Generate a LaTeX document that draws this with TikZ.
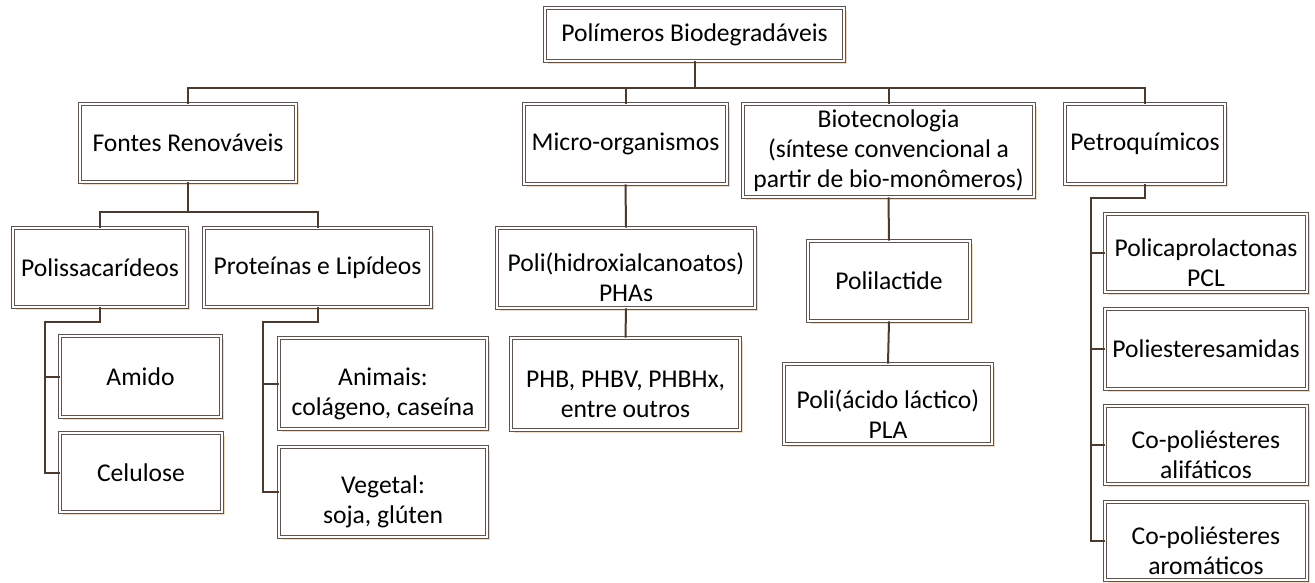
\documentclass[tikz,border=0pt]{standalone}
\usepackage{fontspec}
\setmainfont{Carlito}
\usetikzlibrary{shadows}
\definecolor{boxline}{HTML}{5E534D}
\definecolor{linkline}{HTML}{4A3A30}
\definecolor{shadowtan}{HTML}{EBD3B4}
\tikzset{
	orgbox/.style={draw=boxline, double=white, double distance=1.6pt, line width=0.9pt,
		fill=white, align=center, inner sep=0pt, font=\fontsize{25.6}{30}\selectfont,
		drop shadow={shadow xshift=3pt, shadow yshift=-3pt, fill=shadowtan, opacity=0.8}},
	boxsize/.style 2 args={minimum width=#1, minimum height=#2},
	lowtext/.style={text height=68pt},
	link/.style={linkline, line width=2pt}
}
\begin{document}
\begin{tikzpicture}[x=1pt, y=-1pt]
		\useasboundingbox (0,0) rectangle (1315,582);

		\node [orgbox, boxsize={299}{53}] (root) at (694.5,34.5) {Polímeros Biodegradáveis};

		\node [orgbox, boxsize={216}{78}] (fontes)  at (188,143)    {Fontes Renováveis};
		\node [orgbox, boxsize={203}{80}] (micro)   at (625.5,144)  {Micro-organismos};
		\node [orgbox, boxsize={291}{93}] (biotec)  at (888.5,150.5) {Biotecnologia\\(síntese convencional a\\partir de bio-monômeros)};
		\node [orgbox, boxsize={160}{80}] (petro)   at (1145,144)   {Petroquímicos};

		\node [orgbox, boxsize={174}{79}] (polis)   at (100,267.5)  {Polissacarídeos};
		\node [orgbox, boxsize={227}{79}] (prot)    at (317.5,267.5) {Proteínas e Lipídeos};
		\node [orgbox, boxsize={161}{81}] (amido)   at (140.5,376.5) {Amido};
		\node [orgbox, boxsize={162}{79}] (celulose) at (141,472.5) {Celulose};
		\node [orgbox, lowtext, boxsize={208}{91}] (animais) at (383,383.5) {Animais:\\colágeno, caseína};
		\node [orgbox, lowtext, boxsize={208}{90}] (vegetal) at (383,492)   {Vegetal:\\soja, glúten};

		\node [orgbox, lowtext, boxsize={258}{80}] (phas) at (626,268)    {Poli(hidroxialcanoatos)\\PHAs};
		\node [orgbox, lowtext, boxsize={229}{92}] (phb)  at (625.5,384)  {PHB, PHBV, PHBHx,\\entre outros};

		\node [orgbox, boxsize={162}{80}] (polil)   at (889,281)    {Polilactide};
		\node [orgbox, lowtext, boxsize={208}{80}] (pla) at (888,404)   {Poli(ácido láctico)\\PLA};

		\node [orgbox, lowtext, boxsize={202}{78}] (pcl) at (1206,253)  {Policaprolactonas\\PCL};
		\node [orgbox, boxsize={202}{80}] (poliest) at (1206,349)   {Poliesteresamidas};
		\node [orgbox, lowtext, boxsize={202}{78}] (alif) at (1206,445) {Co-poliésteres\\alifáticos};
		\node [orgbox, lowtext, boxsize={202}{78}] (arom) at (1206,541) {Co-poliésteres\\aromáticos};

		% top level
		\coordinate (bus) at (694.5,88);
		\draw [link] (root.south) -- (bus);
		\draw [link] (fontes.north) |- (bus) -| (petro.north);
		\draw [link] (micro.north) -- (micro.north |- bus);
		\draw [link] (biotec.north) -- (biotec.north |- bus);

		% fontes renovaveis
		\coordinate (fbus) at (188,212);
		\draw [link] (fontes.south) -- (fbus);
		\draw [link] (polis.north) |- (fbus) -| (prot.north);
		\coordinate (pbend) at (45,322);
		\draw [link] (polis.south) |- (pbend) |- (celulose.west);
		\draw [link] (amido.west) -- (amido.west -| pbend);
		\coordinate (rbend) at (263,322);
		\draw [link] (prot.south) |- (rbend) |- (vegetal.west);
		\draw [link] (animais.west) -- (animais.west -| rbend);

		% micro-organismos, biotecnologia
		\draw [link] (micro.south) -- (phas.north);
		\draw [link] (phas.south) -- (phb.north);
		\draw [link] (biotec.south) -- (polil.north);
		\draw [link] (polil.south) -- (pla.north);

		% petroquimicos
		\coordinate (tbend) at (1091,198);
		\draw [link] (petro.south) |- (tbend) |- (arom.west);
		\foreach \n in {pcl, poliest, alif} {
			\draw [link] (\n.west) -- (\n.west -| tbend);
		}
	\end{tikzpicture}
\end{document}
